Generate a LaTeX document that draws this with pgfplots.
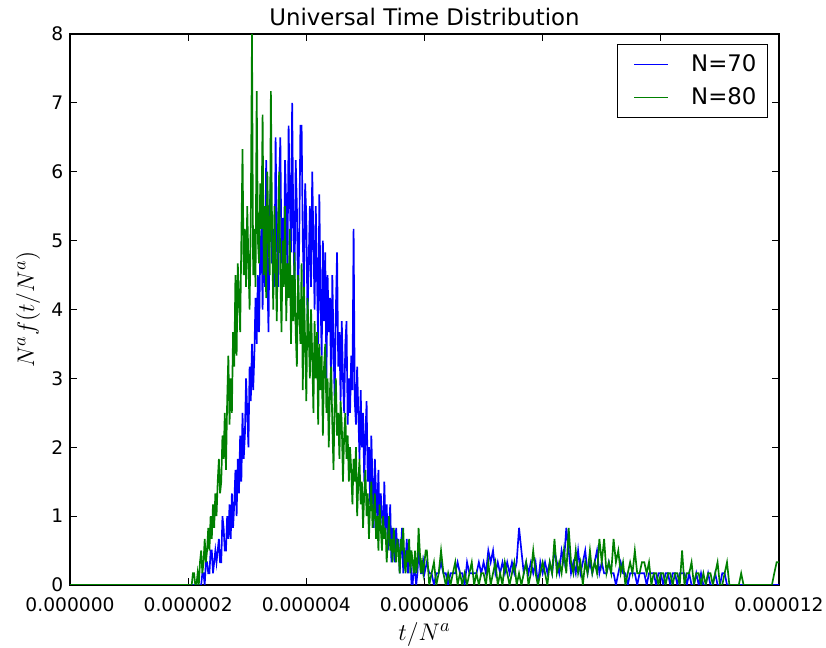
\documentclass[border=0pt]{standalone}
\usepackage{fontspec}
\setmainfont{DejaVu Sans}
\usepackage{pgfplots}
\pgfplotsset{compat=1.18}
\usepackage{pgfplotstable}
\definecolor{mblue}{rgb}{0,0,1}
\definecolor{mgreen}{rgb}{0,0.5,0}
\pgfplotstableread{
x y
0 0
2.20 0
2.22 0
2.24 0.17
2.26 0.17
2.28 0
2.30 0.33
2.32 0.33
2.34 0.17
2.36 0.17
2.38 0.5
2.40 0.5
2.42 0.17
2.44 0.33
2.46 0.5
2.48 0.33
2.50 0.5
2.52 0.67
2.54 0.33
2.56 0.33
2.58 1.0
2.60 0.83
2.62 0.5
2.64 0.5
2.66 1.0
2.68 0.67
2.70 1.17
2.72 0.67
2.74 1.33
2.76 0.83
2.78 1.17
2.80 1.67
2.82 1.0
2.84 1.83
2.86 1.33
2.88 2.17
2.90 1.5
2.92 2.5
2.94 1.83
2.96 2.17
2.98 3.0
3.00 2.5
3.02 2.0
3.04 3.17
3.06 2.67
3.08 3.5
3.10 2.83
3.12 3.33
3.14 4.17
3.16 3.5
3.18 4.5
3.20 3.67
3.22 4.83
3.24 5.17
3.26 4.0
3.28 5.5
3.30 4.33
3.32 6.17
3.34 4.5
3.36 3.67
3.38 5.5
3.40 5.83
3.42 4.67
3.44 5.17
3.46 4.33
3.48 6.5
3.50 5.0
3.52 4.33
3.54 5.83
3.56 6.5
3.58 4.67
3.60 5.33
3.62 4.5
3.64 6.17
3.66 5.5
3.68 4.5
3.70 6.67
3.72 5.67
3.74 4.83
3.76 7.0
3.78 5.17
3.80 4.33
3.82 6.17
3.84 5.5
3.86 4.17
3.88 5.0
3.90 6.67
3.92 6.67
3.94 5.0
3.96 4.33
3.98 5.83
4.00 5.33
4.02 3.83
4.04 4.67
4.06 5.5
4.08 4.33
4.10 6.0
4.12 5.0
4.14 4.0
4.16 5.5
4.18 4.5
4.20 3.5
4.22 5.67
4.24 4.17
4.26 3.33
4.28 5.0
4.30 3.83
4.32 4.83
4.34 3.0
4.36 4.5
4.38 3.67
4.40 4.17
4.42 2.83
4.44 4.5
4.46 3.5
4.48 2.67
4.50 4.0
4.52 4.83
4.54 3.17
4.56 3.67
4.58 2.67
4.60 3.83
4.62 3.0
4.64 2.5
4.66 3.5
4.68 3.83
4.70 2.33
4.72 3.0
4.74 2.5
4.76 3.33
4.78 2.83
4.80 5.17
4.82 2.67
4.84 2.33
4.86 3.17
4.88 2.5
4.90 1.83
4.92 2.83
4.94 2.0
4.96 2.5
4.98 1.5
5.00 2.17
5.02 2.67
5.04 1.5
5.06 2.0
5.08 1.17
5.10 2.17
5.12 1.5
5.14 0.83
5.16 1.83
5.18 1.33
5.20 1.0
5.22 1.67
5.24 0.83
5.26 1.33
5.28 1.0
5.30 0.67
5.32 1.5
5.34 0.83
5.36 1.17
5.38 0.5
5.40 0.83
5.42 1.17
5.44 0.33
5.46 0.83
5.48 0.5
5.50 0.33
5.52 0.83
5.54 0.5
5.56 0.67
5.58 0.17
5.60 0.5
5.62 0.83
5.64 0.17
5.66 0.5
5.68 0.33
5.70 0.67
5.72 0.17
5.74 0.33
5.76 0.5
5.78 0
5.80 0
5.82 0.33
5.84 0.17
5.86 0
5.88 0.17
5.90 0.5
5.92 0.33
5.94 0.17
5.96 0.17
5.98 0.33
6.00 0.17
6.04 0.33
6.08 0.17
6.12 0.17
6.16 0
6.20 0.17
6.24 0.17
6.28 0.33
6.32 0.17
6.36 0.17
6.40 0
6.44 0.17
6.48 0.17
6.52 0.17
6.56 0.33
6.60 0.17
6.64 0.17
6.68 0
6.72 0.33
6.76 0.17
6.80 0.17
6.84 0.17
6.88 0.17
6.92 0.33
6.96 0.17
7.00 0.33
7.04 0.17
7.08 0.5
7.12 0.33
7.16 0.5
7.20 0.17
7.24 0.33
7.28 0.17
7.32 0.33
7.36 0.17
7.40 0.33
7.44 0.17
7.48 0.33
7.52 0.17
7.56 0.33
7.60 0.83
7.64 0.5
7.68 0.17
7.72 0.33
7.76 0.17
7.80 0.33
7.84 0.17
7.88 0.33
7.92 0
7.96 0.33
8.00 0.17
8.04 0.33
8.08 0.17
8.12 0.33
8.16 0.17
8.20 0.5
8.24 0.33
8.28 0.17
8.32 0.5
8.36 0.33
8.40 0.83
8.44 0.5
8.48 0.17
8.52 0.33
8.56 0.17
8.60 0.5
8.64 0.17
8.68 0.33
8.72 0.5
8.76 0.17
8.80 0.33
8.84 0.17
8.88 0.33
8.92 0.5
8.96 0.17
9.00 0.33
9.04 0.17
9.08 0.17
9.12 0.33
9.16 0.17
9.20 0.17
9.24 0
9.28 0.17
9.32 0.33
9.36 0.17
9.40 0.17
9.44 0
9.48 0.17
9.52 0.17
9.56 0.17
9.60 0
9.64 0.17
9.68 0.17
9.72 0.17
9.76 0
9.80 0.17
9.84 0.17
9.88 0.17
9.92 0
9.96 0.17
10.00 0.17
10.04 0
10.08 0.17
10.12 0.17
10.16 0
10.20 0.17
10.24 0.17
10.28 0
10.32 0.17
10.36 0.17
10.40 0.17
10.44 0
10.48 0.17
10.52 0
10.56 0
10.60 0.17
10.64 0
10.68 0.17
10.72 0
10.76 0
10.80 0.17
10.84 0
10.88 0
10.92 0.17
10.96 0
11.00 0
11.04 0.17
11.08 0.17
11.12 0
12.00 0
}\blueN
\pgfplotstableread{
x y
0 0
2.04 0
2.06 0
2.08 0.17
2.10 0.17
2.12 0
2.14 0
2.16 0.17
2.18 0
2.20 0.33
2.22 0.5
2.24 0.17
2.26 0.33
2.28 0.67
2.30 0.33
2.32 0.5
2.34 0.83
2.36 0.5
2.38 1.0
2.40 0.67
2.42 1.17
2.44 0.83
2.46 1.33
2.48 1.0
2.50 1.5
2.52 1.83
2.54 1.33
2.56 1.5
2.58 2.17
2.60 1.83
2.62 2.5
2.64 1.67
2.66 2.67
2.68 3.33
2.70 2.33
2.72 3.0
2.74 2.5
2.76 3.67
2.78 3.17
2.80 4.5
2.82 3.33
2.84 4.67
2.86 4.17
2.88 3.67
2.90 5.0
2.92 6.33
2.94 4.5
2.96 5.17
2.98 4.33
3.00 5.5
3.02 4.67
3.04 4.0
3.06 5.33
3.08 8.0
3.10 4.5
3.12 5.17
3.14 4.33
3.16 7.17
3.18 5.0
3.20 4.67
3.22 5.83
3.24 5.17
3.26 6.83
3.28 4.5
3.30 5.5
3.32 4.17
3.34 6.0
3.36 5.0
3.38 4.5
3.40 7.17
3.42 5.17
3.44 4.0
3.46 5.5
3.48 4.67
3.50 3.83
3.52 5.17
3.54 6.0
3.56 4.5
3.58 3.67
3.60 5.0
3.62 4.33
3.64 5.5
3.66 3.83
3.68 4.67
3.70 4.17
3.72 5.17
3.74 3.5
3.76 4.5
3.78 3.83
3.80 4.83
3.82 3.67
3.84 3.17
3.86 4.5
3.88 4.0
3.90 3.5
3.92 4.67
3.94 2.83
3.96 4.33
3.98 3.5
4.00 2.67
4.02 4.17
4.04 3.67
4.06 3.0
4.08 4.0
4.10 3.33
4.12 2.5
4.14 3.83
4.16 3.0
4.18 3.67
4.20 2.33
4.22 3.5
4.24 2.83
4.26 3.33
4.28 2.17
4.30 3.17
4.32 3.5
4.34 2.5
4.36 3.0
4.38 2.0
4.40 2.83
4.42 3.17
4.44 2.33
4.46 1.67
4.48 2.67
4.50 3.0
4.52 2.17
4.54 2.5
4.56 1.83
4.58 2.67
4.60 2.33
4.62 1.5
4.64 2.17
4.66 2.5
4.68 1.83
4.70 2.17
4.72 1.5
4.74 2.0
4.76 1.67
4.78 1.17
4.80 1.83
4.82 1.5
4.84 2.0
4.86 1.0
4.88 1.5
4.90 1.83
4.92 1.17
4.94 1.5
4.96 0.83
4.98 1.33
5.00 1.67
5.02 1.0
5.04 1.33
5.06 0.67
5.08 1.17
5.10 1.5
5.12 0.83
5.14 1.0
5.16 1.33
5.18 0.67
5.20 1.0
5.22 0.5
5.24 1.17
5.26 0.83
5.28 0.5
5.30 1.0
5.32 0.67
5.34 0.83
5.36 0.33
5.38 0.67
5.40 1.0
5.42 0.5
5.44 0.67
5.46 0.33
5.48 0.83
5.50 0.5
5.52 0.33
5.54 0.67
5.56 0.5
5.58 0.17
5.60 0.67
5.62 0.5
5.64 0.83
5.66 0.33
5.68 0.17
5.70 0.5
5.72 0.33
5.74 0.67
5.76 0.17
5.78 0.5
5.80 0.33
5.82 0.17
5.84 0.5
5.86 0.17
5.88 0.33
5.90 0.83
5.92 0.5
5.94 0.17
5.96 0.33
5.98 0.17
6.00 0.33
6.02 0.5
6.04 0.5
6.08 0
6.12 0.17
6.16 0.33
6.20 0
6.24 0.17
6.28 0.5
6.32 0.17
6.36 0
6.40 0.17
6.44 0
6.48 0.17
6.52 0.33
6.56 0
6.60 0.17
6.64 0
6.68 0.17
6.72 0
6.76 0.17
6.80 0.33
6.84 0
6.88 0.17
6.92 0
6.96 0.17
7.00 0.17
7.04 0
7.08 0.33
7.12 0
7.16 0.17
7.20 0.33
7.24 0
7.28 0.17
7.32 0
7.36 0.33
7.40 0.17
7.44 0
7.48 0.17
7.52 0.33
7.56 0
7.60 0.17
7.64 0
7.68 0.17
7.72 0.33
7.76 0
7.80 0.17
7.84 0.5
7.88 0.17
7.92 0
7.96 0.17
8.00 0.33
8.04 0.17
8.08 0
8.12 0.33
8.16 0.17
8.20 0.67
8.24 0.17
8.28 0.33
8.32 0.17
8.36 0.5
8.40 0.17
8.44 0.83
8.48 0.33
8.52 0.17
8.56 0.5
8.60 0.17
8.64 0.33
8.68 0
8.72 0.33
8.76 0.17
8.80 0.5
8.84 0.17
8.88 0.33
8.92 0.17
8.96 0.67
9.00 0.33
9.04 0.67
9.08 0.17
9.12 0.33
9.16 0.17
9.20 0.67
9.24 0.33
9.28 0.5
9.32 0.17
9.36 0.33
9.40 0
9.44 0.17
9.48 0.33
9.52 0.17
9.56 0.5
9.60 0.17
9.64 0.17
9.68 0.33
9.72 0.33
9.76 0.17
9.80 0.33
9.84 0
9.88 0.17
9.92 0.17
9.96 0
10.00 0.17
10.04 0.17
10.08 0
10.12 0.17
10.16 0.17
10.20 0
10.24 0.17
10.28 0.17
10.32 0
10.36 0.5
10.40 0
10.44 0.17
10.48 0.17
10.52 0.33
10.56 0
10.60 0.17
10.64 0.17
10.68 0
10.72 0.17
10.76 0
10.80 0.17
10.84 0.17
10.88 0
10.92 0.17
10.96 0.33
11.00 0
11.04 0
11.08 0.17
11.12 0.33
11.16 0
11.20 0
11.24 0
11.28 0
11.32 0
11.36 0.17
11.40 0
11.88 0
11.92 0.17
11.96 0.33
12.00 0.33
}\greenN
\begin{document}
\begin{tikzpicture}
\begin{axis}[
  width=425.4pt, height=330.6pt, scale only axis,
  xmin=0, xmax=12, ymin=0, ymax=8,
  xtick={0,2,4,6,8,10,12},
  xticklabels={0.000000,0.000002,0.000004,0.000006,0.000008,0.000010,0.000012},
  ytick={0,1,2,3,4,5,6,7,8},
  /pgf/number format/assume math mode=true,
  tick align=inside, major tick length=4pt,
  xtick pos=both, ytick pos=both,
  tick style={black, line width=0.6pt},
  axis line style={line width=0.8pt},
  tick label style={font=\fontsize{11.2}{13}\selectfont},
  xticklabel style={inner sep=0pt, yshift=-7.5pt},
  yticklabel style={xshift=-0.5pt},
  title style={font=\fontsize{13.7}{16}\selectfont, inner sep=1pt, at={([yshift=4pt]axis description cs:0.5,1)}, anchor=center},
  title={Universal Time Distribution},
  xlabel={$t/N^a$},
  ylabel={$N^a f(t/N^a)$},
  xlabel style={font=\fontsize{15.5}{18}\selectfont, inner sep=0.5pt, at={([yshift=-29.5pt]axis description cs:0.5,0)}, anchor=center},
  ylabel style={font=\fontsize{15.5}{18}\selectfont, inner sep=0.5pt, at={([xshift=-25.2pt]axis description cs:0,0.5)}, anchor=center, rotate=0},
  legend style={at={(1,1)}, anchor=north east, xshift=-6.6pt, yshift=-6pt,
    draw=black, line width=0.6pt, font=\fontsize{13.7}{16}\selectfont,
    inner xsep=6.6pt, inner ysep=3.3pt, row sep=1.9pt, column sep=13.8pt,
    nodes={inner xsep=0pt, inner ysep=3pt}},
  legend cell align=left,
  legend image code/.code={\path (0pt,0pt); \draw[#1, line width=0.6pt] (3pt,0pt) -- (23pt,0pt);},
]
\addplot[mblue, line width=1pt, sharp plot] table[x=x,y=y] {\blueN};
\addlegendentry{N=70}
\addplot[mgreen, line width=1pt, sharp plot] table[x=x,y=y] {\greenN};
\addlegendentry{N=80}
\end{axis}
\path ([shift={(-42pt,-37.8pt)}]current axis.south west) rectangle ([shift={(28.2pt,20.4pt)}]current axis.north east);
\end{tikzpicture}
\end{document}
